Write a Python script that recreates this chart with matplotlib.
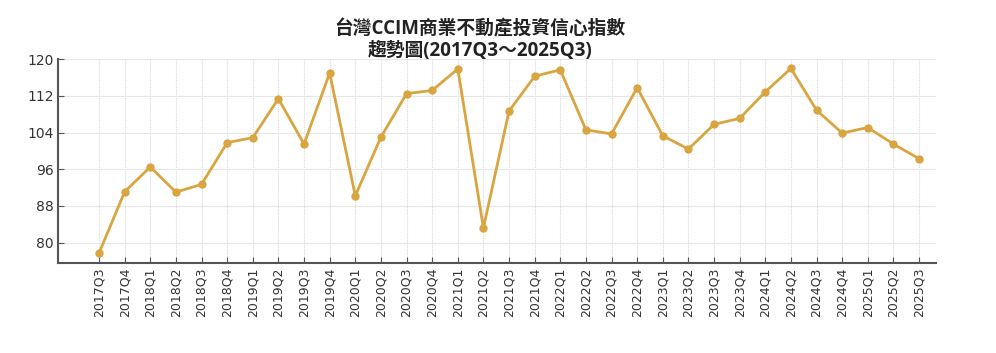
import matplotlib
matplotlib.use("Agg")
import matplotlib.pyplot as plt

plt.rcParams['font.family'] = ['Noto Sans CJK TC', 'DejaVu Sans']

quarters = ["2017Q3", "2017Q4", "2018Q1", "2018Q2", "2018Q3", "2018Q4",
            "2019Q1", "2019Q2", "2019Q3", "2019Q4", "2020Q1", "2020Q2",
            "2020Q3", "2020Q4", "2021Q1", "2021Q2", "2021Q3", "2021Q4",
            "2022Q1", "2022Q2", "2022Q3", "2022Q4", "2023Q1", "2023Q2",
            "2023Q3", "2023Q4", "2024Q1", "2024Q2", "2024Q3", "2024Q4",
            "2025Q1", "2025Q2", "2025Q3"]
values = [77.7, 91.1, 96.5, 91.0, 92.7, 101.8,
          102.9, 111.4, 101.5, 117.0, 90.2, 103.0,
          112.5, 113.2, 117.9, 83.2, 108.7, 116.3,
          117.7, 104.6, 103.7, 113.8, 103.3, 100.4,
          105.8, 107.1, 112.9, 118.0, 108.9, 103.9,
          105.1, 101.5, 98.3]
yticks = [80, 88, 96, 104, 112, 120]
title = "台灣CCIM商業不動產投資信心指數\n趨勢圖(2017Q3～2025Q3)"

fig = plt.figure(figsize=(9.96, 3.53), dpi=100)
ax = fig.add_axes([58.3/996, 1-262.7/353, (935.7-58.3)/996, (262.7-59.3)/353])

x = list(range(len(quarters)))
ax.plot(x, values, color="#D9A540", linewidth=2, marker="o", markersize=5, zorder=3)

ax.set_xlim(-1.59, 32.65)
ax.set_ylim(75.6, 120)
ax.set_yticks(yticks)
ax.set_xticks(x)
ax.set_xticklabels(quarters, rotation=90, fontsize=9, color="#333333",
                   family=['DejaVu Sans'])
ax.tick_params(axis='y', labelsize=10, labelcolor="#333333", direction='in',
               length=4, color="#555555")
ax.tick_params(axis='x', direction='in', length=4, color="#555555")
for lbl in ax.get_yticklabels():
    lbl.set_family(['DejaVu Sans'])

ax.grid(axis='y', color="#e6e6e6", linewidth=0.8)
ax.grid(axis='x', color="#d9d9d9", linewidth=0.8, linestyle=(0, (1, 1)))
ax.set_axisbelow(True)

for s in ['top', 'right']:
    ax.spines[s].set_visible(False)
for s in ['left', 'bottom']:
    ax.spines[s].set_color("#555555")
    ax.spines[s].set_linewidth(1.5)

fig.text(480/996, 1-40/353, title, ha='center', va='center', fontsize=13.5,
         fontweight='bold', color="#222222", linespacing=1.1,
         family=['Open Sans', 'Noto Sans CJK TC'])

fig.savefig("out.png", dpi=100)
